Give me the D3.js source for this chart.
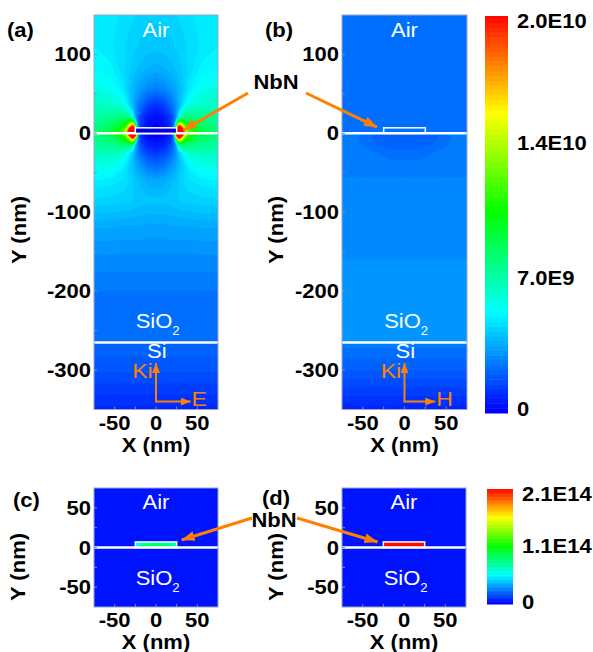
<!DOCTYPE html>
<html>
<head>
<meta charset="utf-8">
<script src="https://cdn.jsdelivr.net/npm/d3@7"></script>
<style>
  body { margin: 0; background: #fff; }
  text { font-family: "Liberation Sans", Arial, Helvetica, sans-serif; }
</style>
</head>
<body>
<svg id="chart" width="593" height="652"></svg>
<script>
// ---- axes / ticks ----
const X_DOMAIN = [-75, 75];
const Y_DOMAIN_TOP = [-350, 150];
const Y_DOMAIN_BOTTOM = [-75, 75];
const xTickValues = [-50, 0, 50];
const yTickTop = [-300, -200, -100, 0, 100];
const yTickBottom = [-50, 0, 50];

// ---- structure (nm) ----
const NBN_X = [-25, 25];
const NBN_Y = [0, 7];
const SI_INTERFACE = -265;

// ---- field maps (a) |E| and (b) |H|, in units of 1E9.
// node columns for x >= 0 (maps are mirror symmetric about x = 0)
const nodeX = [0, 10, 18, 22, 25, 28, 32, 36, 40, 55, 75];
const nodeY = [150, 110, 80, 55, 35, 20, 12, 6, 3, 0, -3, -8, -15, -25, -40, -60,
               -85, -120, -160, -200, -240, -264, -266, -300, -350];

const fieldE = [
  [4.3, 4.35, 4.4, 4.45, 4.5, 4.55, 4.6, 4.65, 4.7, 4.85, 4.95],
  [4.1, 4.15, 4.2, 4.25, 4.3, 4.35, 4.4, 4.48, 4.55, 4.8, 5.0],
  [3.6, 3.7, 3.85, 3.95, 4.05, 4.15, 4.25, 4.42, 4.6, 5.1, 5.25],
  [2.6, 2.8, 3.2, 3.4, 3.6, 3.85, 4.1, 4.5, 4.9, 5.6, 5.9],
  [1.0, 1.4, 2.2, 2.7, 3.2, 3.8, 4.6, 5.3, 5.9, 6.4, 6.6],
  [0.4, 0.6, 1.4, 2.2, 3.6, 5.5, 7.5, 8.0, 8.0, 7.6, 7.1],
  [0.2, 0.4, 1.2, 2.5, 7.0, 15, 13, 10.5, 9.5, 8.3, 7.5],
  [0.15, 0.3, 1.0, 3.0, 17, 26, 20, 13, 11, 8.8, 7.8],
  [0.1, 0.2, 0.8, 3.5, 22, 28, 23, 14, 11.8, 9.1, 8.0],
  [0.1, 0.2, 0.8, 3.5, 22, 28, 22, 13.5, 11.5, 9.0, 8.0],
  [0.1, 0.2, 0.8, 3.0, 19, 26, 19, 12.5, 10.8, 8.6, 7.8],
  [0.3, 0.5, 1.2, 2.5, 9.0, 16, 12.5, 10.5, 9.5, 8.2, 7.6],
  [0.6, 0.8, 1.6, 2.5, 3.8, 7.0, 8.0, 8.0, 8.0, 7.5, 7.2],
  [1.2, 1.5, 2.2, 2.8, 3.4, 4.2, 5.0, 5.6, 6.2, 6.6, 6.5],
  [2.2, 2.5, 3.0, 3.3, 3.6, 3.9, 4.3, 4.7, 5.1, 5.7, 5.8],
  [3.5, 3.6, 3.9, 4.0, 4.1, 4.3, 4.45, 4.6, 4.7, 4.9, 5.0],
  [4.1, 4.1, 4.15, 4.2, 4.2, 4.25, 4.3, 4.32, 4.35, 4.4, 4.45],
  [3.4, 3.4, 3.45, 3.45, 3.45, 3.45, 3.45, 3.45, 3.45, 3.5, 3.5],
  [2.9, 2.9, 2.9, 2.9, 2.9, 2.9, 2.9, 2.9, 2.9, 2.9, 2.9],
  [2.5, 2.5, 2.5, 2.5, 2.5, 2.5, 2.5, 2.5, 2.5, 2.5, 2.5],
  [2.3, 2.3, 2.3, 2.3, 2.3, 2.3, 2.3, 2.3, 2.3, 2.3, 2.3],
  [2.25, 2.25, 2.25, 2.25, 2.25, 2.25, 2.25, 2.25, 2.25, 2.25, 2.25],
  [2.2, 2.2, 2.2, 2.2, 2.2, 2.2, 2.2, 2.2, 2.2, 2.2, 2.2],
  [1.8, 1.8, 1.8, 1.8, 1.8, 1.8, 1.8, 1.8, 1.8, 1.8, 1.8],
  [0.9, 0.9, 0.9, 0.9, 0.9, 0.9, 0.9, 0.9, 0.9, 0.9, 0.9]
];

const fieldH = [
  [2.35, 2.35, 2.35, 2.35, 2.35, 2.35, 2.35, 2.35, 2.35, 2.35, 2.35],
  [2.35, 2.35, 2.35, 2.35, 2.35, 2.35, 2.35, 2.35, 2.35, 2.35, 2.35],
  [2.35, 2.35, 2.35, 2.35, 2.35, 2.35, 2.35, 2.35, 2.35, 2.35, 2.35],
  [2.35, 2.35, 2.35, 2.35, 2.35, 2.35, 2.35, 2.35, 2.35, 2.35, 2.35],
  [2.35, 2.35, 2.35, 2.35, 2.35, 2.35, 2.35, 2.35, 2.35, 2.35, 2.35],
  [2.35, 2.35, 2.35, 2.35, 2.35, 2.35, 2.35, 2.35, 2.35, 2.35, 2.35],
  [2.35, 2.35, 2.35, 2.35, 2.35, 2.35, 2.35, 2.35, 2.35, 2.35, 2.35],
  [2.35, 2.35, 2.35, 2.35, 2.35, 2.35, 2.35, 2.35, 2.35, 2.35, 2.35],
  [2.3, 2.3, 2.3, 2.3, 2.3, 2.3, 2.3, 2.3, 2.3, 2.3, 2.3],
  [2.2, 2.2, 2.2, 2.2, 2.2, 2.22, 2.25, 2.3, 2.35, 2.55, 2.55],
  [2.15, 2.15, 2.15, 2.15, 2.15, 2.18, 2.2, 2.22, 2.25, 2.5, 2.55],
  [2.15, 2.15, 2.15, 2.15, 2.15, 2.18, 2.2, 2.22, 2.25, 2.5, 2.55],
  [2.18, 2.18, 2.2, 2.2, 2.2, 2.22, 2.24, 2.3, 2.35, 2.55, 2.6],
  [2.3, 2.3, 2.35, 2.4, 2.45, 2.45, 2.5, 2.52, 2.55, 2.6, 2.6],
  [2.62, 2.62, 2.62, 2.62, 2.62, 2.62, 2.62, 2.62, 2.62, 2.62, 2.62],
  [2.78, 2.78, 2.78, 2.78, 2.78, 2.78, 2.78, 2.78, 2.78, 2.78, 2.78],
  [2.85, 2.85, 2.85, 2.85, 2.85, 2.85, 2.85, 2.85, 2.85, 2.85, 2.85],
  [2.95, 2.95, 2.95, 2.95, 2.95, 2.95, 2.95, 2.95, 2.95, 2.95, 2.95],
  [3.0, 3.0, 3.0, 3.0, 3.0, 3.0, 3.0, 3.0, 3.0, 3.0, 3.0],
  [3.02, 3.02, 3.02, 3.02, 3.02, 3.02, 3.02, 3.02, 3.02, 3.02, 3.02],
  [3.02, 3.02, 3.02, 3.02, 3.02, 3.02, 3.02, 3.02, 3.02, 3.02, 3.02],
  [3.02, 3.02, 3.02, 3.02, 3.02, 3.02, 3.02, 3.02, 3.02, 3.02, 3.02],
  [2.6, 2.6, 2.6, 2.6, 2.6, 2.6, 2.6, 2.6, 2.6, 2.6, 2.6],
  [2.0, 2.0, 2.0, 2.0, 2.0, 2.0, 2.0, 2.0, 2.0, 2.0, 2.0],
  [0.85, 0.85, 0.85, 0.85, 0.85, 0.85, 0.85, 0.85, 0.85, 0.85, 0.85]
];

// ---- current density inside NbN, (c) and (d), in units of 1E13 ----
const currentX = [-25, -15, -5, 5, 15, 25];
const currentY = [7, 0];
const currentC = [
  [5.2, 6.2, 6.8, 6.8, 6.5, 5.8],
  [6.0, 8.5, 9.5, 9.5, 9.0, 7.5]
];
const currentD = [
  [20.8, 20.8, 20.8, 20.8, 20.8, 20.8],
  [20.8, 20.8, 20.8, 20.8, 20.8, 20.8]
];

// ---- colour bars ----
const bar1Max = 20.6;               // 1E9 units
const bar1Ticks = [0, 7, 14, 20.6];
const bar1Labels = ["0", "7.0E9", "1.4E10", "2.0E10"];
const bar2Max = 21;                 // 1E13 units
const bar2Ticks = [0, 10.5, 21];
const bar2Labels = ["0", "1.1E14", "2.1E14"];

// ------------------------------------------------------------------
const ORANGE = "#ff8000";
const FRAME = "#9aa5c9";
const STRETCH = "scale(1.1,1)";
const rainbow = ["#0000ff", "#00ffff", "#00ff00", "#ffff00", "#ff0000"];
const colorFor = max => d3.scaleLinear()
  .domain(d3.range(5).map(i => i * max / 4)).range(rainbow).clamp(true);
const color1 = colorFor(bar1Max);
const color2 = colorFor(bar2Max);

const svg = d3.select("#chart");
const defs = svg.append("defs");

function arrowHead(id, len, wid) {
  defs.append("marker").attr("id", id)
    .attr("viewBox", `0 0 ${len} ${wid}`).attr("refX", len).attr("refY", wid / 2)
    .attr("markerWidth", len).attr("markerHeight", wid)
    .attr("markerUnits", "userSpaceOnUse").attr("orient", "auto")
    .append("path").attr("d", `M0,0L${len},${wid / 2}L0,${wid}Z`).attr("fill", ORANGE);
}
arrowHead("headBig", 13, 10);
arrowHead("headSmall", 10, 8);

function text(str, x, y, o = {}) {
  return svg.append("text")
    .attr("transform", `translate(${x},${y}) ${o.rotate ? "rotate(-90) " : ""}${STRETCH}`)
    .attr("text-anchor", o.anchor || "start")
    .attr("font-size", o.size || 20)
    .attr("font-weight", o.weight || "bold")
    .attr("fill", o.fill || "#000")
    .text(str);
}

function makePanel(id, box, yDomain) {
  const x = d3.scaleLinear().domain(X_DOMAIN).range([box[0], box[1]]);
  const y = d3.scaleLinear().domain(yDomain).range([box[3], box[2]]);
  defs.append("clipPath").attr("id", "clip-" + id).append("rect")
    .attr("x", box[0]).attr("y", box[2]).attr("width", box[1] - box[0]).attr("height", box[3] - box[2]);
  return { id, x, y, box, g: svg.append("g") };
}

// filled iso-bands of a (possibly non-uniform) node grid
function drawField(p, xs, ys, rows, color, step, top, clipId) {
  const nx = xs.length, ny = ys.length;
  const ix = d3.scaleLinear().domain(d3.range(nx)).range(xs).clamp(true);
  const iy = d3.scaleLinear().domain(d3.range(ny)).range(ys).clamp(true);
  const path = d3.geoPath(d3.geoTransform({
    point(gx, gy) { this.stream.point(p.x(ix(gx - 0.5)), p.y(iy(gy - 0.5))); }
  }));
  const contours = d3.contours().size([nx, ny])
    .thresholds(d3.range(0, top, step))(rows.flat());
  p.g.append("g").attr("clip-path", `url(#${clipId})`)
    .selectAll("path").data(contours).join("path")
    .attr("d", path)
    .attr("fill", d => color(d.value))
    .attr("stroke", d => color(d.value))
    .attr("stroke-width", 0.4);
}

const mirrorRow = row => [...row.slice(1).reverse(), ...row];
const xsFull = [...nodeX.slice(1).map(v => -v).reverse(), ...nodeX];

function drawFrame(p, yTicks, yMinor, xlabBase, yTitleX, yTitleY) {
  const [x0, x1, y0, y1] = p.box;
  p.g.append("rect").attr("x", x0).attr("y", y0).attr("width", x1 - x0).attr("height", y1 - y0)
    .attr("fill", "none").attr("stroke", FRAME).attr("stroke-width", 1);
  p.g.selectAll(".ymin").data(d3.range(p.y.domain()[0] + yMinor, p.y.domain()[1], yMinor)).join("line")
    .attr("x1", x0).attr("x2", x0 + 3).attr("y1", d => p.y(d)).attr("y2", d => p.y(d))
    .attr("stroke", "#8a8fa0");
  p.g.selectAll(".xmin").data(d3.range(-50, 75, 25)).join("line")
    .attr("x1", d => p.x(d)).attr("x2", d => p.x(d)).attr("y1", y1).attr("y2", y1 - 3)
    .attr("stroke", "#8a8fa0");
  yTicks.forEach(v => text(String(v), x0 - 3, p.y(v) + 7, { anchor: "end" }));
  xTickValues.forEach(v => text(String(v), p.x(v), y1 + xlabBase, { anchor: "middle" }));
  text("X (nm)", (x0 + x1) / 2, y1 + xlabBase + 21.5, { anchor: "middle" });
  text("Y (nm)", yTitleX, yTitleY, { anchor: "middle", rotate: true });
}

function interfaceLine(p, yv) {
  p.g.append("line").attr("x1", p.box[0]).attr("x2", p.box[1])
    .attr("y1", p.y(yv)).attr("y2", p.y(yv)).attr("stroke", "#fff").attr("stroke-width", 2.5);
}

function nbnRect(p, fill) {
  p.g.append("rect")
    .attr("x", p.x(NBN_X[0])).attr("y", p.y(NBN_Y[1]))
    .attr("width", p.x(NBN_X[1]) - p.x(NBN_X[0])).attr("height", p.y(NBN_Y[0]) - p.y(NBN_Y[1]))
    .attr("fill", fill).attr("stroke", "#fff").attr("stroke-width", 1.5);
}

function whiteLabel(str, x, y, anchor = "middle") {
  return text(str, x, y, { anchor, weight: "normal", fill: "#fff" });
}
function sio2(p, xv, yv) {
  const t = svg.append("text")
    .attr("transform", `translate(${p.x(xv)},${p.y(yv)}) ${STRETCH}`)
    .attr("text-anchor", "middle").attr("font-size", 20).attr("fill", "#fff");
  t.append("tspan").text("SiO");
  t.append("tspan").attr("font-size", 12).attr("dy", 7).text("2");
}

// ---------------- top panels ----------------
const pA = makePanel("a", [94, 218, 15, 409.5], Y_DOMAIN_TOP);
const pB = makePanel("b", [342, 467, 15, 409.5], Y_DOMAIN_TOP);
drawField(pA, xsFull, nodeY, fieldE.map(mirrorRow), color1, 0.25, bar1Max, "clip-a");
drawField(pB, xsFull, nodeY, fieldH.map(mirrorRow), color1, 0.25, bar1Max, "clip-b");

[[pA, "E", 42], [pB, "H", 37]].forEach(([p, comp, tip]) => {
  interfaceLine(p, 0);
  interfaceLine(p, SI_INTERFACE);
  nbnRect(p, p === pA ? "#0000e0" : "none");
  whiteLabel("Air", p.x(0), p.y(122));
  sio2(p, 2, -247);
  whiteLabel("Si", p.x(1), p.y(-285));
  // incidence arrows
  svg.append("path")
    .attr("d", `M${p.x(0)},${p.y(-340)}V${p.y(-291)}`)
    .attr("stroke", ORANGE).attr("stroke-width", 2).attr("fill", "none")
    .attr("marker-end", "url(#headSmall)");
  svg.append("path")
    .attr("d", `M${p.x(0) - 1},${p.y(-340)}H${p.x(tip)}`)
    .attr("stroke", ORANGE).attr("stroke-width", 2).attr("fill", "none")
    .attr("marker-end", "url(#headSmall)");
  text("Ki", p.x(-4), p.y(-310), { anchor: "end", weight: "normal", fill: ORANGE, size: 21 });
  text(comp, p.x(tip + 1), p.y(-346), { weight: "normal", fill: ORANGE, size: 21 });
});
drawFrame(pA, yTickTop, 50, 20.5, 26, 230);
drawFrame(pB, yTickTop, 50, 20.5, 283, 230);

// ---------------- bottom panels ----------------
const pC = makePanel("c", [94, 218, 488, 607], Y_DOMAIN_BOTTOM);
const pD = makePanel("d", [342, 466, 488, 607], Y_DOMAIN_BOTTOM);
[[pC, currentC], [pD, currentD]].forEach(([p, cur]) => {
  p.g.append("rect").attr("x", p.box[0]).attr("y", p.box[2])
    .attr("width", p.box[1] - p.box[0]).attr("height", p.box[3] - p.box[2])
    .attr("fill", color2(0.4));
  defs.append("clipPath").attr("id", "nbn-" + p.id).append("rect")
    .attr("x", p.x(NBN_X[0])).attr("y", p.y(NBN_Y[1]))
    .attr("width", p.x(NBN_X[1]) - p.x(NBN_X[0])).attr("height", p.y(NBN_Y[0]) - p.y(NBN_Y[1]));
  drawField(p, currentX, currentY, cur, color2, 0.25, bar2Max, "nbn-" + p.id);
  interfaceLine(p, 0);
  nbnRect(p, "none");
  whiteLabel("Air", p.x(0), p.y(48.5));
  sio2(p, 2, -47.3);
});
drawFrame(pC, yTickBottom, 25, 20, 25, 567);
drawFrame(pD, yTickBottom, 25, 20, 283, 567);

// ---------------- colour bars ----------------
function colorBar(box, max, color, ticks, labels, labelX, baseClamp) {
  const y = d3.scaleLinear().domain([0, max]).range([box[3], box[2]]);
  const levels = d3.range(0, max, 0.25);
  svg.append("g").selectAll("rect").data(levels).join("rect")
    .attr("x", box[0]).attr("width", box[1] - box[0])
    .attr("y", d => y(Math.min(max, d + 0.25)))
    .attr("height", d => y(d) - y(Math.min(max, d + 0.25)) + 0.5)
    .attr("fill", d => color(d));
  ticks.forEach((v, i) => {
    const base = Math.max(baseClamp[0], Math.min(baseClamp[1], y(v) + 6.5));
    text(labels[i], labelX, base);
  });
}
colorBar([485, 508, 16, 413], bar1Max, color1, bar1Ticks, bar1Labels, 517, [28, 416]);
colorBar([487, 513, 489, 604], bar2Max, color2, bar2Ticks, bar2Labels, 522, [501, 609]);

// ---------------- panel letters & NbN callouts ----------------
text("(a)", 7, 37);
text("(b)", 265, 37);
text("(c)", 13, 507);
text("(d)", 262, 505);
text("NbN", 276, 89, { anchor: "middle" });
text("NbN", 274, 527, { anchor: "middle" });

function callout(x1, y1, x2, y2) {
  svg.append("line").attr("x1", x1).attr("y1", y1).attr("x2", x2).attr("y2", y2)
    .attr("stroke", ORANGE).attr("stroke-width", 3).attr("marker-end", "url(#headBig)");
}
callout(248, 93, pA.x(33), pA.y(4));
callout(306, 93, pB.x(-33), pB.y(8));
callout(252, 518, pC.x(31), pC.y(9.5));
callout(297, 518, pD.x(-32), pD.y(7));
</script>
</body>
</html>
